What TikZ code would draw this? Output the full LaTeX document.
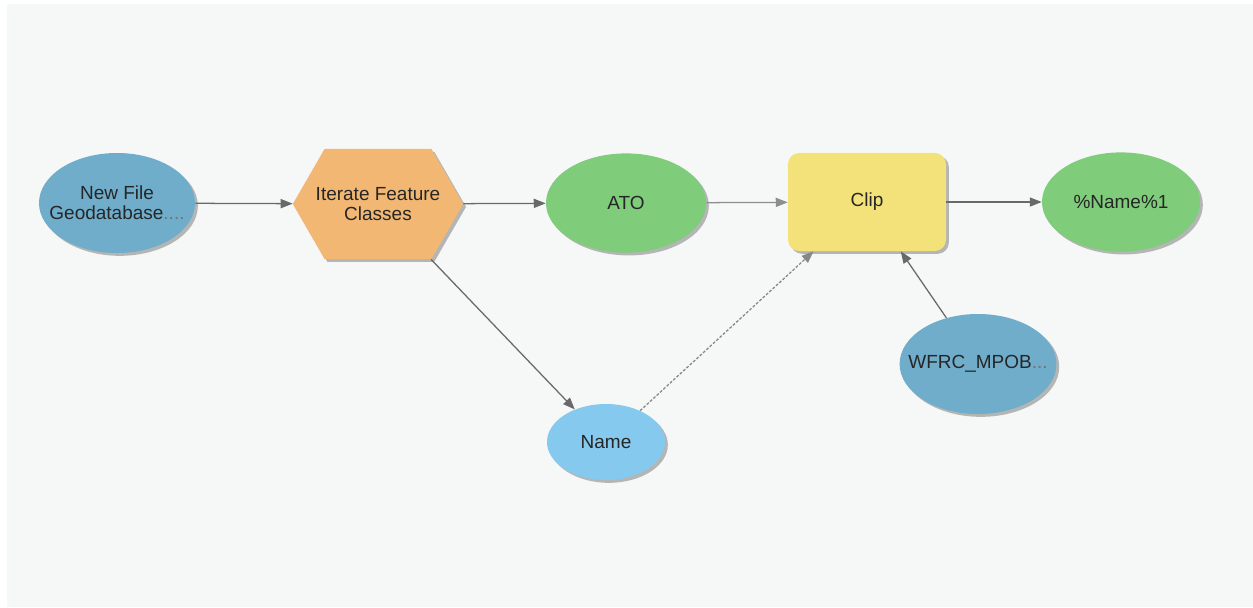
\documentclass[tikz,border=0pt]{standalone}
\usepackage{fontspec}
\setmainfont{Liberation Sans}
\usetikzlibrary{shapes.geometric,shapes.symbols,shadows,arrows.meta,positioning}
\definecolor{bgcol}{RGB}{246,248,248}
\definecolor{inblue}{RGB}{111,173,203}
\definecolor{toolorange}{RGB}{241,183,115}
\definecolor{outgreen}{RGB}{127,204,123}
\definecolor{toolyellow}{RGB}{243,226,122}
\definecolor{varblue}{RGB}{133,202,238}
\definecolor{linkgray}{RGB}{105,105,105}

\tikzset{
  elem/.style={font=\fontsize{13.5}{14.5}\selectfont, text=black!85, align=center, inner sep=1pt,
    drop shadow={shadow xshift=2pt, shadow yshift=-2pt, fill=black!40, opacity=0.7}},
  dataoval/.style={elem, ellipse, minimum width=3.95cm, minimum height=2.48cm},
  hexbox/.style={elem, signal, signal to=west and east, signal pointer angle=120,
    inner xsep=-0.22cm, minimum height=2.75cm, fill=toolorange},
  toolbox/.style={elem, rectangle, rounded corners=8pt, minimum width=3.95cm, minimum height=2.45cm, fill=toolyellow},
  link/.style={draw=linkgray, line width=0.9pt, -{Triangle[length=8.5pt,width=6.5pt]}}
}

\begin{document}
\begin{tikzpicture}[x=0.025cm,y=-0.025cm]

% canvas
\fill[white] (0,0) rectangle (1253,607);
\fill[bgcol] (7,4) rectangle (1253,607);

% model elements
\node[dataoval, fill=inblue, inner xsep=-0.4cm, minimum width=3.9cm, minimum height=2.5cm] (gdb) at (117,203) {New File\\Geodatabase\textcolor{black!55}{....}};
\node[hexbox] (iter) at (378,204) {Iterate Feature\\Classes};
\node[dataoval, fill=outgreen, minimum width=4.0cm] (ato) at (626,203) {ATO};
\node[toolbox] (clip) at (867,202) {Clip};
\node[dataoval, fill=outgreen] (out) at (1121,202) {\%Name\%1};
\node[dataoval, fill=varblue, minimum width=2.95cm, minimum height=1.9cm] (name) at (606,442) {Name};
\node[dataoval, fill=inblue, inner xsep=-0.4cm, minimum width=3.92cm, minimum height=2.5cm] (wfrc) at (978,364) {WFRC\_MPOB\textcolor{black!55}{...}};

% connectors
\foreach \a/\b in {gdb/iter, iter/ato, clip/out, iter/name, wfrc/clip} {
  \draw[link] (\a) -- (\b);
}
\draw[link, draw=linkgray!75] (ato) -- (clip);
\draw[link, draw=linkgray!80, dash pattern=on 2pt off 1.2pt] (name) -- (clip); % precondition

\end{tikzpicture}
\end{document}
